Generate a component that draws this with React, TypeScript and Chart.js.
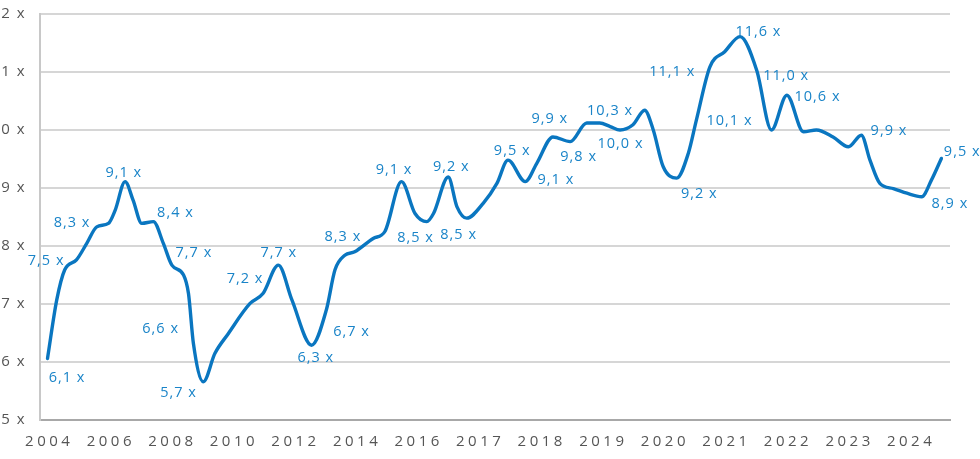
import React, { useEffect, useRef } from 'react';
import { Chart, registerables } from 'chart.js';

Chart.register(...registerables);

// x-axis tick labels (one per tick position 0..14)
const yearLabels = ['2004', '2006', '2008', '2010', '2012', '2014', '2016', '2017', '2018', '2019', '2020', '2021', '2022', '2023', '2024'];
// y-axis ticks
const yTicks = [5, 6, 7, 8, 9, 10, 11, 12];

// traced curve: position along the axis and multiple value
const curveX = [0, 0.15, 0.28, 0.47, 0.64, 0.8, 0.99, 1.1, 1.26, 1.39, 1.53, 1.72, 1.88, 2.02, 2.21, 2.29, 2.37, 2.53, 2.72, 2.93, 3.29, 3.5, 3.75, 3.97, 4.29, 4.53, 4.67, 4.83, 4.99, 5.29, 5.48, 5.75, 5.97, 6.16, 6.27, 6.51, 6.65, 6.81, 7.08, 7.3, 7.48, 7.76, 7.95, 8.21, 8.49, 8.76, 8.97, 9.14, 9.3, 9.51, 9.7, 9.84, 10.0, 10.22, 10.41, 10.54, 10.76, 11.0, 11.25, 11.52, 11.76, 12.01, 12.28, 12.49, 12.76, 13.01, 13.22, 13.36, 13.52, 13.74, 13.96, 14.2, 14.36, 14.52];
const curveY = [6.06, 7.07, 7.59, 7.76, 8.05, 8.33, 8.39, 8.62, 9.11, 8.79, 8.39, 8.42, 8.05, 7.67, 7.5, 7.18, 6.32, 5.66, 6.15, 6.48, 7.01, 7.18, 7.67, 7.07, 6.29, 6.9, 7.59, 7.84, 7.9, 8.13, 8.25, 9.11, 8.56, 8.42, 8.56, 9.19, 8.68, 8.48, 8.74, 9.08, 9.48, 9.11, 9.43, 9.88, 9.8, 10.12, 10.12, 10.06, 10.0, 10.09, 10.34, 10.0, 9.37, 9.17, 9.6, 10.17, 11.09, 11.35, 11.61, 11.03, 10.0, 10.6, 9.97, 10.0, 9.88, 9.71, 9.91, 9.48, 9.08, 8.99, 8.91, 8.85, 9.14, 9.51];

// annotated values
const labelValues = [7.5, 8.3, 9.1, 8.4, 7.7, 6.6, 6.1, 5.7, 7.2, 7.7, 6.3, 6.7, 8.3, 9.1, 8.5, 9.2, 8.5, 9.5, 9.1, 9.9, 9.8, 10.3, 10.0, 9.2, 11.1, 10.1, 11.6, 11.0, 10.6, 9.9, 9.5, 8.9];
// where each annotation sits, in axis units
const labelAtX = [-0.03, 0.39, 1.23, 2.07, 2.37, 1.83, 0.31, 2.12, 3.2, 3.75, 4.35, 4.93, 4.79, 5.62, 5.97, 6.55, 6.67, 7.54, 8.25, 8.15, 8.62, 9.13, 9.3, 10.58, 10.14, 11.07, 11.54, 11.99, 12.5, 13.66, 14.85, 14.65];
const labelAtY = [7.76, 8.42, 9.28, 8.59, 7.9, 6.59, 5.75, 5.48, 7.45, 7.9, 6.09, 6.53, 8.17, 9.32, 8.15, 9.38, 8.21, 9.66, 9.15, 10.21, 9.55, 10.34, 9.78, 8.91, 11.02, 10.18, 11.71, 10.95, 10.59, 10.0, 9.64, 8.74];

const fmt = (v: number) => v.toFixed(1).replace('.', ',') + ' x';

const FONT = '"Open Sans", "DejaVu Sans", sans-serif';

const textPlugin = {
  id: 'textPlugin',
  beforeDraw(chart: any) {
    chart.ctx.letterSpacing = '1.5px';
  },
  afterDraw(chart: any) {
    const ctx = chart.ctx;
    const xs = chart.scales.x;
    const ys = chart.scales.y;
    ctx.save();
    ctx.textAlign = 'center';
    ctx.textBaseline = 'alphabetic';
    // year labels
    ctx.font = `15px ${FONT}`;
    ctx.letterSpacing = '3.5px';
    ctx.fillStyle = '#555555';
    yearLabels.forEach((t, i) => {
      ctx.fillText(t, xs.getPixelForValue(i) + 1.75, xs.top + 25.5);
    });
    // value annotations
    ctx.font = `14.5px ${FONT}`;
    ctx.letterSpacing = '1px';
    ctx.fillStyle = '#1a84c8';
    labelValues.forEach((v, i) => {
      ctx.fillText(fmt(v), xs.getPixelForValue(labelAtX[i]) + 0.5, ys.getPixelForValue(labelAtY[i]) + 5);
    });
    ctx.restore();
  },
};

export default function App() {
  const ref = useRef<HTMLCanvasElement | null>(null);

  useEffect(() => {
    if (!ref.current) return;
    const chart = new Chart(ref.current, {
      type: 'line',
      data: {
        datasets: [
          {
            data: curveX.map((x, i) => ({ x, y: curveY[i] })),
            borderColor: '#0a76c0',
            borderWidth: 3.4,
            pointRadius: 0,
            fill: false,
            cubicInterpolationMode: 'monotone',
            borderCapStyle: 'round',
            borderJoinStyle: 'round',
          },
        ],
      },
      options: {
        responsive: false,
        animation: false,
        devicePixelRatio: 1,
        layout: { padding: { top: 14, left: 0, right: 35, bottom: 0 } },
        plugins: { legend: { display: false }, tooltip: { enabled: false } },
        scales: {
          x: {
            type: 'linear',
            min: -0.122,
            max: 14.66,
            grid: { display: false },
            border: { display: true, color: '#a8a8a8', width: 2 },
            ticks: { display: false },
            afterFit: (s: any) => {
              s.height = 39;
              s.paddingLeft = 0;
              s.paddingRight = 0;
            },
          },
          y: {
            type: 'linear',
            min: 5,
            max: 12,
            afterBuildTicks: (s: any) => {
              s.ticks = yTicks.map((v) => ({ value: v }));
            },
            ticks: {
              callback: (v: any) => `${v} x`,
              font: { family: FONT, size: 15 },
              color: '#555555',
              padding: 14,
            },
            grid: { color: '#d6d6d6', lineWidth: 2, drawTicks: false },
            border: { display: true, color: '#c8c8c8', width: 2 },
            afterFit: (s: any) => {
              s.width = 55;
              s.paddingTop = 0;
              s.paddingBottom = 0;
            },
          },
        },
      },
      plugins: [textPlugin],
    } as any);
    return () => chart.destroy();
  }, []);

  return (
    <div style={{ position: 'fixed', left: 0, top: 0, width: 980, height: 459, overflow: 'hidden', background: '#ffffff' }}>
      <canvas ref={ref} width={1000} height={459} style={{ position: 'absolute', left: -15, top: 0, display: 'block' }} />
    </div>
  );
}
